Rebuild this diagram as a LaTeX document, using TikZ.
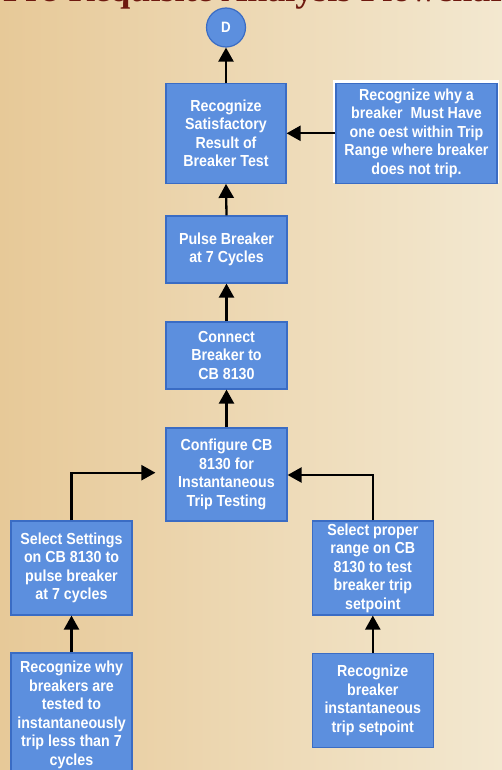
\documentclass[tikz,border=0pt]{standalone}
\usepackage{fontspec}
\setmainfont{Liberation Sans}
\newfontfamily\boxfont[FakeStretch=0.89]{Liberation Sans Bold}
\newfontfamily\titlefont{Liberation Serif}
\usetikzlibrary{arrows.meta,calc}
\definecolor{boxblue}{RGB}{92,143,222}
\definecolor{boxedge}{RGB}{58,108,196}
\definecolor{bgleft}{RGB}{231,201,152}
\definecolor{bgright}{RGB}{243,232,208}
\definecolor{titlered}{RGB}{110,25,15}
\tikzset{
  stepbox/.style={rectangle, fill=boxblue, draw=boxedge, line width=1.2pt,
    text=white, align=center, inner sep=1pt,
    font=\boxfont\fontsize{16}{18.5}\selectfont},
  conn/.style={line width=2.3pt, -{Triangle[width=15pt,length=14pt]}}
}
\begin{document}
\begin{tikzpicture}[x=1pt,y=-1pt]
\useasboundingbox (0,0) rectangle (502,770);
\begin{scope}
\clip (0,0) rectangle (502,770);
\shade[left color=bgleft, right color=bgright] (0,0) rectangle (502,770);
\node[anchor=base west, inner sep=0pt, text=titlered, font=\titlefont\bfseries\fontsize{36}{36}\selectfont] (title) at (3,1.2) {Pre-Requisite Analysis Flowchart};

\node[circle, fill=boxblue, draw=boxedge, line width=1.2pt, minimum size=39pt, inner sep=0pt, text=white, font=\boxfont\fontsize{15}{15}\selectfont] (d) at (226,27.5) {D};

\node[stepbox, minimum width=120pt, minimum height=100pt] (b1) at (226,133.3) {Recognize\\Satisfactory\\Result of\\Breaker Test};
\fill[white] (333,80) rectangle (499,183);
\node[stepbox, minimum width=161pt, minimum height=100pt] (rt) at (416.5,133.3) {Recognize why a\\breaker\ \ Must Have\\one oest within Trip\\Range where breaker\\does not trip.};
\node[stepbox, minimum width=121pt, minimum height=67pt] (b2) at (226.5,249.5) {Pulse Breaker\\at 7 Cycles};
\node[stepbox, minimum width=121pt, minimum height=67pt] (b3) at (226.5,355.5) {Connect\\Breaker to\\CB 8130};
\node[stepbox, minimum width=121pt, minimum height=93pt] (b4) at (226.5,474.5) {Configure CB\\8130 for\\Instantaneous\\Trip Testing};
\node[stepbox, minimum width=121pt, minimum height=94pt] (ls) at (71.5,568) {Select Settings\\on CB 8130 to\\pulse breaker\\at 7 cycles};
\node[stepbox, minimum width=121pt, minimum height=94pt] (rs) at (372.8,568) {Select proper\\range on CB\\8130 to test\\breaker trip\\setpoint};
\node[stepbox, minimum width=121pt, minimum height=124pt] (lb) at (71.5,715) {Recognize why\\breakers are\\tested to\\instantaneously\\trip less than 7\\cycles};
\node[stepbox, minimum width=121pt, minimum height=94pt] (rb) at (372.8,700.5) {Recognize\\breaker\\instantaneous\\trip setpoint};

\draw[conn] (b1.north) -- (d.south);
\draw[conn] (rt.west) -- (b1.east);
\draw[conn] (b2.north) -- (b1.south);
\draw[conn] (b3.north) -- (b2.south);
\draw[conn] (b4.north) -- (b3.south);
\coordinate (lin) at ($(b4.west)+(0,-1.8)$);
\coordinate (rin) at ($(b4.east)+(0,0.5)$);
\draw[conn, shorten >=10pt] (ls.north) |- (lin);
\draw[conn] (rs.north) |- (rin);
\draw[conn] (lb.north) -- (ls.south);
\draw[conn] (rb.north) -- (rs.south);
\end{scope}
\end{tikzpicture}
\end{document}
